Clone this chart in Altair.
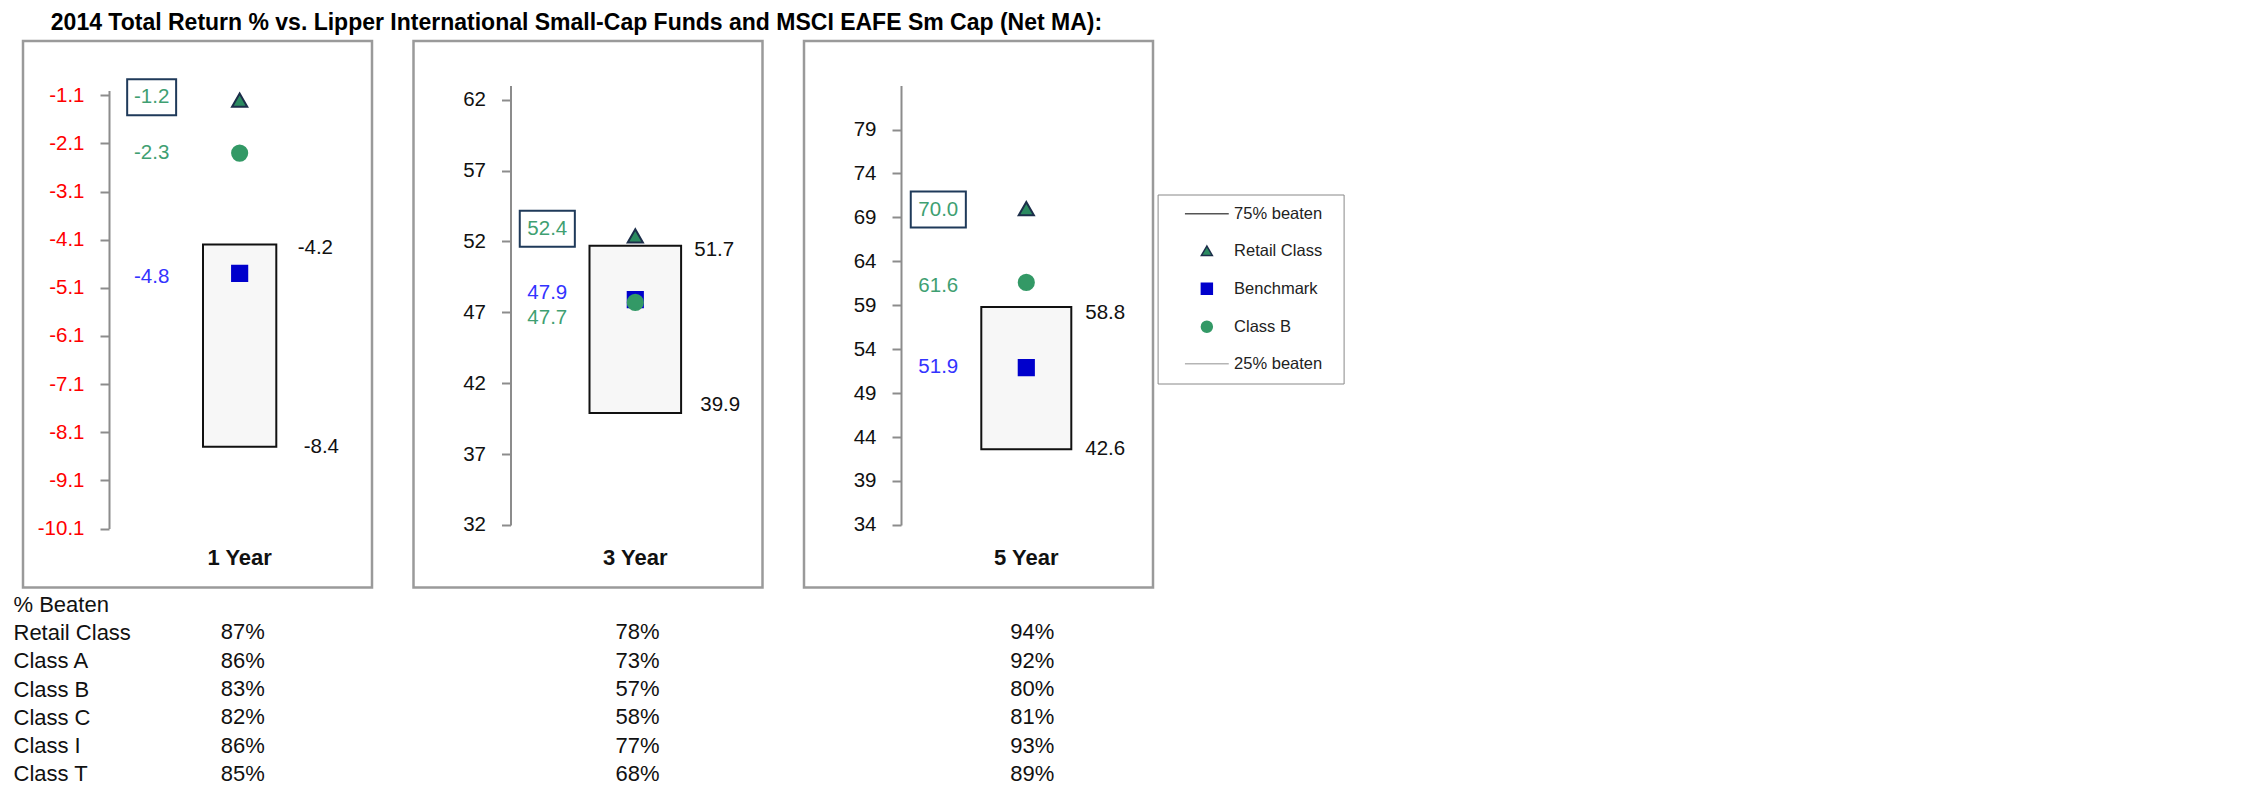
import altair as alt
import pandas as pd

# ---------------- data ----------------
periods = ["1 Year", "3 Year", "5 Year"]
retail_class = [-1.2, 52.4, 70.0]
benchmark = [-4.8, 47.9, 51.9]
class_b = [-2.3, 47.7, 61.6]
beaten_75 = [-4.2, 51.7, 58.8]   # top of the box
beaten_25 = [-8.4, 39.9, 42.6]   # bottom of the box
axis_ticks = [
    [-1.1, -2.1, -3.1, -4.1, -5.1, -6.1, -7.1, -8.1, -9.1, -10.1],
    [62, 57, 52, 47, 42, 37, 32],
    [79, 74, 69, 64, 59, 54, 49, 44, 39, 34],
]
axis_extent = [[-10.1, -1.0], [32, 63], [34, 84]]

table_rows = ["% Beaten", "Retail Class", "Class A", "Class B", "Class C", "Class I", "Class T"]
pct_1y = [87, 86, 83, 82, 86, 85]
pct_3y = [78, 73, 57, 58, 77, 68]
pct_5y = [94, 92, 80, 81, 93, 89]

series_names = ["Retail Class", "Benchmark", "Class B"]
legend_items = ["75% beaten", "Retail Class", "Benchmark", "Class B", "25% beaten"]
title_text = "2014 Total Return % vs. Lipper International Small-Cap Funds and MSCI EAFE Sm Cap (Net MA):"

FONT = "Liberation Sans"


def fmt1(v):
    return f"{v:.1f}"


# ---------------- styles ----------------
shape_scale = alt.Scale(domain=legend_items,
                        range=["M-4,0H4", "triangle-up", "square", "circle", "M-4,0H4"])
fill_scale = alt.Scale(domain=legend_items,
                       range=["transparent", "#2b8a60", "#0000cc", "#339966", "transparent"])
stroke_scale = alt.Scale(domain=legend_items,
                         range=["#555555", "#1c2e4a", "#0000cc", "#339966", "#b5b5b5"])
label_colors = {"Retail Class": "#3f9f72", "Benchmark": "#3333ff", "Class B": "#3f9f72"}

PANEL_H = 546.4
panel_style = [
    dict(band=[180, 253.3], yrange=[487.5, 49.5], offset=-86, lcolor="#ff0000",
         box="M-1.36,-1H1.36V1H-1.36Z",
         dy={"Retail Class": -3, "Class B": 0, "Benchmark": 4},
         dx75=58, dy75=3, dx25=64, dy25=0),
    dict(band=[176, 267.6], yrange=[483.9, 44.6], offset=-97, lcolor="#111111",
         box="M-1.53,-1H1.53V1H-1.53Z",
         dy={"Retail Class": -7, "Benchmark": -7, "Class B": 16},
         dx75=59, dy75=4.5, dx25=65, dy25=-7.5),
    dict(band=[177.3, 267.3], yrange=[483.9, 44.6], offset=-97, lcolor="#111111",
         box="M-1.53,-1H1.53V1H-1.53Z",
         dy={"Retail Class": 1, "Class B": 4, "Benchmark": -1},
         dx75=59, dy75=5.5, dx25=59, dy25=0),
]

legend_def = alt.Legend(orient="none", legendX=353.6, legendY=153.5, title="\u00a0",
                        titleOrient="right", titlePadding=10, titleFontSize=14,
                        labelFont=FONT, labelFontSize=16.5, labelColor="#222222",
                        symbolSize=120, symbolStrokeWidth=1.5, padding=11, rowPadding=20,
                        symbolOffset=30, labelOffset=19, strokeColor="#888888",
                        fillColor="white")


def make_panel(i):
    st = panel_style[i]
    period = periods[i]
    y_scale = alt.Scale(domain=axis_extent[i], range=st["yrange"], nice=False, zero=False)
    x_scale = alt.Scale(domain=[period], range=st["band"], paddingInner=0, paddingOuter=0)
    yaxis_kw = dict(values=axis_ticks[i], offset=st["offset"], grid=False,
                    domainColor="#8c8c8c", domainWidth=2, tickColor="#8c8c8c",
                    tickWidth=2, tickSize=9, labelPadding=16, labelFont=FONT,
                    labelFontSize=20.5, labelColor=st["lcolor"], title=None)
    if i == 0:
        yaxis_kw.update(labelExpr="datum.value < 0 ? '-' + format(-datum.value, '.1f') : format(datum.value, '.1f')")
    else:
        yaxis_kw.update(format="d")
    y_axis = alt.Axis(**yaxis_kw)
    x_axis = alt.Axis(orient="bottom", offset=-39.5, domain=False, ticks=False,
                      labelPadding=0, labelFont=FONT, labelFontSize=22,
                      labelFontWeight="bold", labelColor="#111111", labelAngle=0,
                      title=None)
    X = alt.X("period:N", scale=x_scale, axis=x_axis)

    def Y(field):
        return alt.Y(field, scale=y_scale, axis=y_axis)

    box_df = pd.DataFrame({"period": [period], "low": [beaten_25[i]], "high": [beaten_75[i]],
                           "low_label": [fmt1(beaten_25[i])], "high_label": [fmt1(beaten_75[i])]})
    pts_df = pd.DataFrame({"period": [period] * 3, "series": series_names,
                           "value": [retail_class[i], benchmark[i], class_b[i]]})
    pts_df["label"] = pts_df["value"].map(fmt1)

    base_box = alt.Chart(box_df)
    bar = base_box.mark_bar(fill="#f7f7f7", stroke="#111111", strokeWidth=2).encode(
        x=X, y=Y("low:Q"), y2="high:Q")
    hi_lab = base_box.mark_text(align="left", baseline="middle", dx=st["dx75"], dy=st["dy75"],
                                fontSize=20.5, font=FONT, color="#111111").encode(
        x=X, y=Y("high:Q"), text="high_label:N")
    lo_lab = base_box.mark_text(align="left", baseline="middle", dx=st["dx25"], dy=st["dy25"],
                                fontSize=20.5, font=FONT, color="#111111").encode(
        x=X, y=Y("low:Q"), text="low_label:N")

    leg = legend_def if i == 2 else None
    pts = alt.Chart(pts_df).mark_point(filled=True, opacity=1, size=230, strokeWidth=2).encode(
        x=X, y=Y("value:Q"),
        shape=alt.Shape("series:N", scale=shape_scale, legend=leg),
        fill=alt.Fill("series:N", scale=fill_scale, legend=leg),
        stroke=alt.Stroke("series:N", scale=stroke_scale, legend=leg),
    )
    layers = [bar, hi_lab, lo_lab, pts]
    for s in series_names:
        lab = alt.Chart(pts_df).transform_filter(alt.datum.series == s).mark_text(
            align="center", baseline="middle", dx=-88, dy=st["dy"][s], fontSize=20.5,
            font=FONT, color=label_colors[s]).encode(x=X, y=Y("value:Q"), text="label:N")
        layers.append(lab)
    box = alt.Chart(pts_df).transform_filter(alt.datum.series == "Retail Class").mark_point(
        shape=st["box"], size=1296, filled=False, opacity=1, stroke="#1f3a5a", strokeWidth=2,
        xOffset=-88, yOffset=st["dy"]["Retail Class"]).encode(x=X, y=Y("value:Q"))
    layers.append(box)
    return alt.layer(*layers).properties(
        width=349, height=PANEL_H,
        view=alt.ViewBackground(stroke="#9a9a9a", strokeWidth=2.5, fill="white"))


panels = alt.hconcat(make_panel(0), make_panel(1), make_panel(2), spacing=37.5).resolve_scale(
    x="independent", y="independent", shape="independent", fill="independent",
    stroke="independent")

# ---------------- table ----------------
trows = []
for p, vals in zip(periods, [pct_1y, pct_3y, pct_5y]):
    for r, v in zip(table_rows[1:], vals):
        trows.append({"period": p, "row": r, "label": f"{v}%"})
table_df = pd.DataFrame(trows)

table = alt.Chart(table_df).mark_text(fontSize=22, font=FONT, color="#111111",
                                      align="center", baseline="middle").encode(
    x=alt.X("period:N", scale=alt.Scale(domain=periods, type="point", padding=0.557), axis=None),
    y=alt.Y("row:N", scale=alt.Scale(domain=table_rows, paddingInner=0, paddingOuter=0),
            axis=alt.Axis(orient="left", domain=False, ticks=False, tickSize=0,
                          labelAlign="left", labelPadding=10, labelFont=FONT,
                          labelFontSize=22, labelColor="#111111", labelLimit=400,
                          title=None)),
    text="label:N",
).properties(width=1229.2, height=7 * 28.3,
             view=alt.ViewBackground(stroke="transparent"))

chart = alt.vconcat(panels, table, spacing=0).resolve_scale(
    x="independent", y="independent").properties(
    title=alt.TitleParams(text=title_text, anchor="start", fontSize=23, fontWeight="bold",
                          font=FONT, color="#000000", dx=38.3, offset=5),
    padding={"left": 4, "top": 3, "right": 5, "bottom": 2},
).configure(font=FONT)

chart.save("out.html", embed_options={"renderer": "svg", "actions": False})
